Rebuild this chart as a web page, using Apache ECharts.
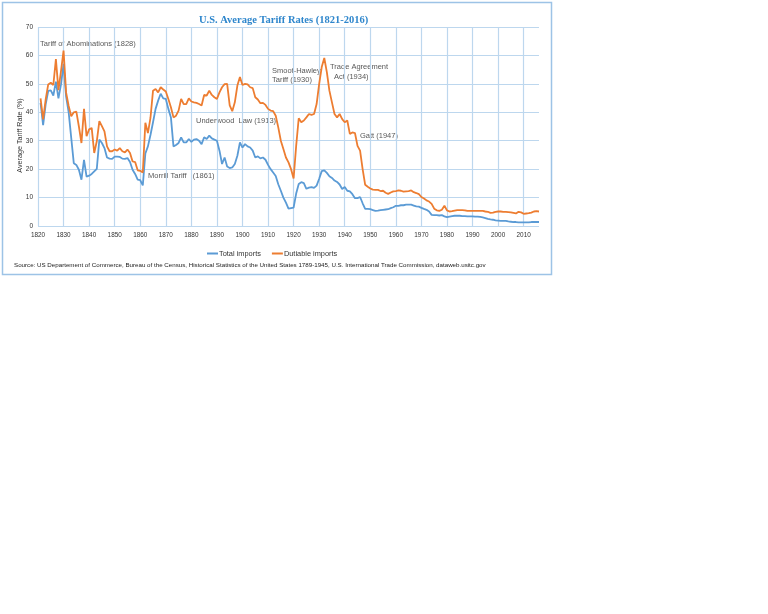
<!DOCTYPE html>
<html>
<head>
<meta charset="utf-8">
<script src="https://cdn.jsdelivr.net/npm/echarts@6/dist/echarts.min.js"></script>
<style>
  html, body { margin: 0; padding: 0; background: #fff; }
  #chart { width: 768px; height: 614px; }
</style>
</head>
<body>
<div id="chart"></div>
<script>
// years 1821..2016
const firstYear = 1821;
const lastYear = 2016;

// Average tariff rate on total imports (%), 1821-2016
const totalImports = [
    43.3, 35.5, 42.8, 47.5, 47.7, 45.9, 50.8, 44.9, 49.8, 57.0,
    45.5, 40.0, 31.0, 22.1, 21.5, 19.8, 16.3, 23.3, 17.4, 17.7,
    18.3, 19.2, 20.1, 30.4, 29.2, 27.4, 24.1, 23.7, 23.6, 24.4,
    24.4, 24.3, 23.7, 23.6, 23.9, 22.5, 19.8, 18.3, 16.3, 16.1,
    14.3, 25.5, 28.0, 32.0, 36.5, 41.2, 44.1, 46.5, 44.9, 44.7,
    41.2, 38.2, 28.0, 28.5, 29.2, 31.2, 29.4, 29.4, 30.6, 29.6,
    30.4, 30.6, 30.0, 28.8, 31.2, 30.6, 31.8, 30.8, 30.4, 30.0,
    26.5, 21.8, 24.1, 20.9, 20.4, 20.6, 21.8, 24.7, 29.4, 27.6,
    28.8, 28.0, 27.6, 26.5, 24.1, 24.5, 23.8, 24.1, 23.3, 21.5,
    20.0, 18.8, 17.6, 14.7, 12.4, 10.0, 8.2, 6.1, 6.3, 6.5,
    11.4, 14.8, 15.4, 15.1, 13.1, 13.5, 13.7, 13.4, 14.2, 16.6,
    19.3, 19.6, 18.7, 17.5, 16.9, 16.0, 15.5, 14.6, 13.0, 13.7,
    12.4, 12.2, 11.2, 9.8, 9.8, 10.2, 8.0, 6.0, 6.0, 5.9,
    5.6, 5.3, 5.4, 5.6, 5.7, 5.8, 5.9, 6.3, 6.6, 7.1,
    7.1, 7.3, 7.3, 7.5, 7.5, 7.5, 7.2, 6.9, 6.8, 6.4,
    6.0, 5.7, 5.1, 3.9, 3.8, 3.8, 3.7, 3.8, 3.4, 3.1,
    3.3, 3.5, 3.6, 3.6, 3.6, 3.5, 3.5, 3.4, 3.4, 3.4,
    3.3, 3.3, 3.2, 3.0, 2.8, 2.5, 2.3, 2.2, 2.0, 1.9,
    1.8, 1.8, 1.8, 1.6, 1.5, 1.4, 1.4, 1.3, 1.3, 1.3,
    1.3, 1.3, 1.4, 1.4, 1.4, 1.4
];

// Average tariff rate on dutiable imports (%), 1821-2016
const dutiableImports = [
    44.9, 37.5, 44.5, 49.8, 50.4, 49.6, 58.7, 47.8, 54.5, 61.7,
    46.9, 42.2, 38.6, 40.0, 40.2, 35.0, 29.2, 41.2, 31.6, 34.0,
    34.5, 25.7, 29.8, 36.9, 35.1, 33.3, 28.0, 26.3, 26.3, 26.9,
    26.5, 27.4, 26.3, 25.9, 26.9, 25.7, 22.7, 22.5, 19.6, 19.4,
    18.8, 36.3, 32.7, 38.0, 47.6, 48.2, 47.0, 48.8, 48.0, 47.3,
    44.7, 41.8, 38.2, 38.8, 40.6, 44.7, 42.9, 42.9, 44.9, 43.8,
    43.5, 43.3, 42.9, 42.4, 46.1, 45.9, 47.6, 46.1, 45.3, 44.7,
    47.0, 48.8, 49.9, 50.0, 42.4, 40.4, 43.5, 49.4, 52.4, 49.6,
    50.0, 49.8, 48.8, 48.5, 45.3, 44.5, 43.2, 43.3, 42.6, 41.2,
    40.6, 40.4, 38.8, 34.7, 30.0, 27.1, 24.1, 22.4, 20.0, 16.7,
    28.2, 37.9, 36.5, 37.1, 38.2, 39.4, 39.1, 39.4, 42.9, 50.0,
    55.9, 59.1, 54.1, 47.6, 43.5, 39.4, 38.2, 39.4, 37.6, 36.5,
    37.1, 32.4, 32.9, 32.7, 28.2, 26.5, 20.0, 14.5, 13.8, 13.2,
    12.8, 12.7, 12.7, 12.3, 12.4, 11.7, 11.3, 11.8, 12.2, 12.3,
    12.5, 12.4, 12.1, 12.2, 12.3, 12.5, 11.9, 11.6, 11.2, 10.2,
    9.7, 9.0, 8.6, 7.8, 6.1, 5.5, 5.3, 5.7, 7.1, 5.5,
    5.1, 5.2, 5.4, 5.6, 5.6, 5.6, 5.5, 5.3, 5.3, 5.3,
    5.3, 5.3, 5.3, 5.3, 5.1, 5.0, 4.6, 4.7, 5.0, 5.1,
    5.1, 5.0, 5.0, 4.9, 4.8, 4.6, 4.4, 5.0, 4.8, 4.3,
    4.4, 4.5, 4.7, 5.1, 5.2, 5.1
];

// text notes on the chart (pixel positions)
const notes = [
    {text: 'Tariff of Abominations (1828)', x: 40, y: 44},
    {text: 'Smoot-Hawley', x: 272, y: 71},
    {text: 'Tariff (1930)', x: 272, y: 80},
    {text: 'Trade Agreement', x: 330, y: 67},
    {text: 'Act (1934)', x: 334, y: 77},
    {text: 'Underwood  Law (1913)', x: 196, y: 121},
    {text: 'Gatt (1947)', x: 360, y: 136},
    {text: 'Morrill Tariff   (1861)', x: 148, y: 176}
];

const sourceText = 'Source: US Departement of Commerce, Bureau of the Census, Historical Statistics of the United States 1789-1945, U.S. International Trade Commission, dataweb.usitc.gov';

function pairs(values) {
    return values.map((v, i) => [firstYear + i, v]);
}

let chart = echarts.init(document.getElementById('chart'), null, {renderer: 'canvas'});

let graphics = [{
    type: 'rect',
    shape: {x: 2.5, y: 2.5, width: 549, height: 272},
    style: {fill: 'none', stroke: '#9DC3E6', lineWidth: 1.5},
    silent: true
}, {
    type: 'text',
    left: 14, top: 262,
    style: {text: sourceText, fill: '#222', font: '6.2px "Liberation Sans"'}
}, {
    // y axis title
    type: 'text',
    x: 20, y: 135.5,
    rotation: Math.PI / 2,
    style: {
        text: 'Average Tariff Rate (%)', fill: '#333',
        font: '7.2px "Liberation Sans"', align: 'center', verticalAlign: 'middle'
    }
}];
notes.forEach(n => {
    graphics.push({
        type: 'text',
        x: n.x, y: n.y,
        style: {text: n.text, fill: '#595959', font: '7.5px "Liberation Sans"', verticalAlign: 'middle'}
    });
});

let option = {
    backgroundColor: '#fff',
    animation: false,
    title: {
        text: 'U.S. Average Tariff Rates (1821-2016)',
        left: 194, top: 10,
        textStyle: {
            color: '#2E86CC', fontFamily: 'Liberation Serif',
            fontWeight: 'bold', fontSize: 10.5
        }
    },
    legend: {
        left: 202, top: 245,
        itemWidth: 11, itemHeight: 2, itemGap: 11,
        icon: 'rect',
        textStyle: {fontSize: 7.4, color: '#333', fontFamily: 'Liberation Sans', padding: [0, 0, 0, -4]},
        data: ['Total imports', 'Dutiable imports']
    },
    grid: {left: 38, right: 229, top: 27, bottom: 388},
    xAxis: {
        type: 'value',
        min: 1820, max: lastYear, interval: 10,
        axisLine: {show: false},
        axisTick: {show: false},
        axisLabel: {
            fontSize: 6.4, color: '#333', fontFamily: 'Liberation Sans', margin: 6,
            showMaxLabel: false,
            formatter: v => (v % 10 === 0 ? String(v) : '')
        },
        splitLine: {show: true, showMaxLine: false, lineStyle: {color: '#BDD7EE', width: 1.2}}
    },
    yAxis: {
        type: 'value',
        min: 0, max: 70, interval: 10,
        axisLine: {show: false},
        axisTick: {show: false},
        axisLabel: {fontSize: 6.5, color: '#333', fontFamily: 'Liberation Sans', margin: 5},
        splitLine: {lineStyle: {color: '#BDD7EE', width: 1.2}}
    },
    series: [{
        name: 'Total imports',
        type: 'line',
        data: pairs(totalImports),
        symbol: 'none',
        lineStyle: {color: '#5B9BD5', width: 1.8},
        itemStyle: {color: '#5B9BD5'}
    }, {
        name: 'Dutiable imports',
        type: 'line',
        data: pairs(dutiableImports),
        symbol: 'none',
        lineStyle: {color: '#ED7D31', width: 1.8},
        itemStyle: {color: '#ED7D31'}
    }],
    graphic: graphics
};
chart.setOption(option);
</script>
</body>
</html>
